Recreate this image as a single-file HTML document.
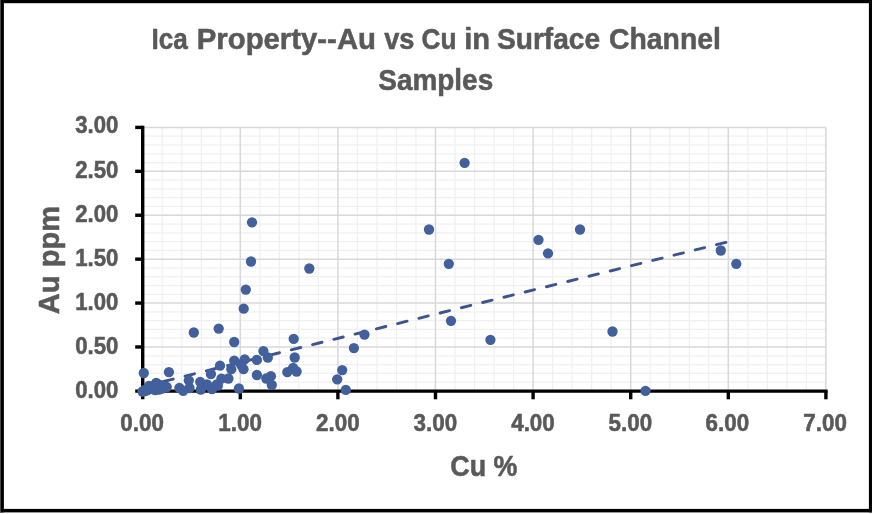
<!DOCTYPE html>
<html lang="en"><head><meta charset="utf-8"><title>Ica Property--Au vs Cu in Surface Channel Samples</title>
<style>html,body{margin:0;padding:0;background:#fff;overflow:hidden}svg{display:block}text{font-family:"Liberation Sans", sans-serif;font-weight:bold;fill:#595959;stroke:#595959;stroke-width:0.55px;stroke-linejoin:round}</style>
</head><body>
<svg width="872" height="514" viewBox="0 0 872 514">
<rect x="0" y="0" width="872" height="514" fill="#fff"/>
<g fill="#000">
<rect x="0" y="0" width="872" height="3.2"/>
<rect x="0" y="0" width="3.9" height="512.4"/>
<rect x="868.9" y="0" width="3.1" height="512.4"/>
<rect x="0" y="508.9" width="872" height="3.5"/>
</g>
<rect x="0" y="0" width="1" height="512" fill="#4a4a4a"/>
<g stroke="#f0f0f0" stroke-width="1.25" fill="none">
<line x1="162.22" y1="127.41" x2="162.22" y2="390.90"/>
<line x1="181.74" y1="127.41" x2="181.74" y2="390.90"/>
<line x1="201.26" y1="127.41" x2="201.26" y2="390.90"/>
<line x1="220.78" y1="127.41" x2="220.78" y2="390.90"/>
<line x1="259.82" y1="127.41" x2="259.82" y2="390.90"/>
<line x1="279.34" y1="127.41" x2="279.34" y2="390.90"/>
<line x1="298.86" y1="127.41" x2="298.86" y2="390.90"/>
<line x1="318.38" y1="127.41" x2="318.38" y2="390.90"/>
<line x1="357.42" y1="127.41" x2="357.42" y2="390.90"/>
<line x1="376.94" y1="127.41" x2="376.94" y2="390.90"/>
<line x1="396.46" y1="127.41" x2="396.46" y2="390.90"/>
<line x1="415.98" y1="127.41" x2="415.98" y2="390.90"/>
<line x1="455.02" y1="127.41" x2="455.02" y2="390.90"/>
<line x1="474.54" y1="127.41" x2="474.54" y2="390.90"/>
<line x1="494.06" y1="127.41" x2="494.06" y2="390.90"/>
<line x1="513.58" y1="127.41" x2="513.58" y2="390.90"/>
<line x1="552.62" y1="127.41" x2="552.62" y2="390.90"/>
<line x1="572.14" y1="127.41" x2="572.14" y2="390.90"/>
<line x1="591.66" y1="127.41" x2="591.66" y2="390.90"/>
<line x1="611.18" y1="127.41" x2="611.18" y2="390.90"/>
<line x1="650.22" y1="127.41" x2="650.22" y2="390.90"/>
<line x1="669.74" y1="127.41" x2="669.74" y2="390.90"/>
<line x1="689.26" y1="127.41" x2="689.26" y2="390.90"/>
<line x1="708.78" y1="127.41" x2="708.78" y2="390.90"/>
<line x1="747.82" y1="127.41" x2="747.82" y2="390.90"/>
<line x1="767.34" y1="127.41" x2="767.34" y2="390.90"/>
<line x1="786.86" y1="127.41" x2="786.86" y2="390.90"/>
<line x1="806.38" y1="127.41" x2="806.38" y2="390.90"/>
<line x1="142.70" y1="382.12" x2="825.90" y2="382.12"/>
<line x1="142.70" y1="373.33" x2="825.90" y2="373.33"/>
<line x1="142.70" y1="364.55" x2="825.90" y2="364.55"/>
<line x1="142.70" y1="355.77" x2="825.90" y2="355.77"/>
<line x1="142.70" y1="338.20" x2="825.90" y2="338.20"/>
<line x1="142.70" y1="329.42" x2="825.90" y2="329.42"/>
<line x1="142.70" y1="320.64" x2="825.90" y2="320.64"/>
<line x1="142.70" y1="311.85" x2="825.90" y2="311.85"/>
<line x1="142.70" y1="294.29" x2="825.90" y2="294.29"/>
<line x1="142.70" y1="285.50" x2="825.90" y2="285.50"/>
<line x1="142.70" y1="276.72" x2="825.90" y2="276.72"/>
<line x1="142.70" y1="267.94" x2="825.90" y2="267.94"/>
<line x1="142.70" y1="250.37" x2="825.90" y2="250.37"/>
<line x1="142.70" y1="241.59" x2="825.90" y2="241.59"/>
<line x1="142.70" y1="232.81" x2="825.90" y2="232.81"/>
<line x1="142.70" y1="224.02" x2="825.90" y2="224.02"/>
<line x1="142.70" y1="206.46" x2="825.90" y2="206.46"/>
<line x1="142.70" y1="197.67" x2="825.90" y2="197.67"/>
<line x1="142.70" y1="188.89" x2="825.90" y2="188.89"/>
<line x1="142.70" y1="180.11" x2="825.90" y2="180.11"/>
<line x1="142.70" y1="162.54" x2="825.90" y2="162.54"/>
<line x1="142.70" y1="153.76" x2="825.90" y2="153.76"/>
<line x1="142.70" y1="144.98" x2="825.90" y2="144.98"/>
<line x1="142.70" y1="136.19" x2="825.90" y2="136.19"/>
</g>
<g stroke="#d8d8d8" stroke-width="1.5" fill="none">
<line x1="240.30" y1="127.41" x2="240.30" y2="390.90"/>
<line x1="337.90" y1="127.41" x2="337.90" y2="390.90"/>
<line x1="435.50" y1="127.41" x2="435.50" y2="390.90"/>
<line x1="533.10" y1="127.41" x2="533.10" y2="390.90"/>
<line x1="630.70" y1="127.41" x2="630.70" y2="390.90"/>
<line x1="728.30" y1="127.41" x2="728.30" y2="390.90"/>
<line x1="825.90" y1="127.41" x2="825.90" y2="390.90"/>
<line x1="142.70" y1="346.98" x2="825.90" y2="346.98"/>
<line x1="142.70" y1="303.07" x2="825.90" y2="303.07"/>
<line x1="142.70" y1="259.15" x2="825.90" y2="259.15"/>
<line x1="142.70" y1="215.24" x2="825.90" y2="215.24"/>
<line x1="142.70" y1="171.32" x2="825.90" y2="171.32"/>
<line x1="142.70" y1="127.41" x2="825.90" y2="127.41"/>
</g>
<g stroke="#000" stroke-width="3.4" fill="none">
<line x1="142.70" y1="125.71" x2="142.70" y2="399.30"/>
<line x1="135.20" y1="391.10" x2="827.60" y2="391.10"/>
<line x1="240.30" y1="390.90" x2="240.30" y2="399.30"/>
<line x1="337.90" y1="390.90" x2="337.90" y2="399.30"/>
<line x1="435.50" y1="390.90" x2="435.50" y2="399.30"/>
<line x1="533.10" y1="390.90" x2="533.10" y2="399.30"/>
<line x1="630.70" y1="390.90" x2="630.70" y2="399.30"/>
<line x1="728.30" y1="390.90" x2="728.30" y2="399.30"/>
<line x1="825.90" y1="390.90" x2="825.90" y2="399.30"/>
<line x1="135.20" y1="346.98" x2="142.70" y2="346.98"/>
<line x1="135.20" y1="303.07" x2="142.70" y2="303.07"/>
<line x1="135.20" y1="259.15" x2="142.70" y2="259.15"/>
<line x1="135.20" y1="215.24" x2="142.70" y2="215.24"/>
<line x1="135.20" y1="171.32" x2="142.70" y2="171.32"/>
<line x1="135.20" y1="127.41" x2="142.70" y2="127.41"/>
</g>
<line x1="142.50" y1="386.63" x2="726.30" y2="242.26" stroke="#3c5490" stroke-width="2.9" stroke-linecap="round" stroke-dasharray="9.7 12.2" stroke-dashoffset="0.00"/>
<g fill="#42609c">
<circle cx="464.6" cy="162.8" r="5.15"/>
<circle cx="429.0" cy="229.5" r="5.15"/>
<circle cx="448.8" cy="263.8" r="5.15"/>
<circle cx="309.3" cy="268.5" r="5.15"/>
<circle cx="451.0" cy="320.8" r="5.15"/>
<circle cx="490.4" cy="339.8" r="5.15"/>
<circle cx="364.5" cy="334.6" r="5.15"/>
<circle cx="353.9" cy="348.1" r="5.15"/>
<circle cx="293.7" cy="338.8" r="5.15"/>
<circle cx="294.7" cy="357.5" r="5.15"/>
<circle cx="293.1" cy="368.0" r="5.15"/>
<circle cx="296.6" cy="371.5" r="5.15"/>
<circle cx="287.3" cy="372.1" r="5.15"/>
<circle cx="342.2" cy="370.1" r="5.15"/>
<circle cx="337.2" cy="379.3" r="5.15"/>
<circle cx="345.8" cy="389.9" r="5.15"/>
<circle cx="252.0" cy="222.3" r="5.15"/>
<circle cx="251.0" cy="261.5" r="5.15"/>
<circle cx="538.5" cy="239.8" r="5.15"/>
<circle cx="548.0" cy="253.3" r="5.15"/>
<circle cx="580.0" cy="229.5" r="5.15"/>
<circle cx="720.8" cy="250.5" r="5.15"/>
<circle cx="736.3" cy="263.8" r="5.15"/>
<circle cx="612.5" cy="331.5" r="5.15"/>
<circle cx="645.5" cy="390.8" r="5.15"/>
<circle cx="245.8" cy="289.6" r="5.15"/>
<circle cx="243.7" cy="308.7" r="5.15"/>
<circle cx="234.2" cy="342.0" r="5.15"/>
<circle cx="193.8" cy="332.5" r="5.15"/>
<circle cx="218.7" cy="328.6" r="5.15"/>
<circle cx="263.4" cy="351.1" r="5.15"/>
<circle cx="267.8" cy="357.5" r="5.15"/>
<circle cx="256.9" cy="359.9" r="5.15"/>
<circle cx="244.7" cy="359.3" r="5.15"/>
<circle cx="234.2" cy="360.6" r="5.15"/>
<circle cx="243.5" cy="369.2" r="5.15"/>
<circle cx="231.3" cy="369.2" r="5.15"/>
<circle cx="241.0" cy="364.5" r="5.15"/>
<circle cx="256.9" cy="375.0" r="5.15"/>
<circle cx="270.9" cy="376.2" r="5.15"/>
<circle cx="266.3" cy="378.5" r="5.15"/>
<circle cx="271.8" cy="385.0" r="5.15"/>
<circle cx="238.9" cy="388.5" r="5.15"/>
<circle cx="143.8" cy="373.0" r="5.15"/>
<circle cx="168.9" cy="372.1" r="5.15"/>
<circle cx="220.0" cy="365.7" r="5.15"/>
<circle cx="228.4" cy="378.5" r="5.15"/>
<circle cx="221.4" cy="378.7" r="5.15"/>
<circle cx="210.9" cy="374.0" r="5.15"/>
<circle cx="217.9" cy="385.5" r="5.15"/>
<circle cx="212.0" cy="389.2" r="5.15"/>
<circle cx="200.2" cy="381.8" r="5.15"/>
<circle cx="200.8" cy="389.5" r="5.15"/>
<circle cx="188.8" cy="380.3" r="5.15"/>
<circle cx="189.5" cy="388.0" r="5.15"/>
<circle cx="179.4" cy="388.0" r="5.15"/>
<circle cx="183.2" cy="390.8" r="5.15"/>
<circle cx="216.8" cy="384.5" r="5.15"/>
<circle cx="207.0" cy="384.5" r="5.15"/>
<circle cx="142.5" cy="391.5" r="5.15"/>
<circle cx="145.0" cy="391.0" r="5.15"/>
<circle cx="147.5" cy="390.0" r="5.15"/>
<circle cx="150.0" cy="388.5" r="5.15"/>
<circle cx="152.0" cy="386.5" r="5.15"/>
<circle cx="156.2" cy="382.9" r="5.15"/>
<circle cx="160.0" cy="385.0" r="5.15"/>
<circle cx="163.0" cy="386.0" r="5.15"/>
<circle cx="166.7" cy="387.0" r="5.15"/>
<circle cx="155.0" cy="390.0" r="5.15"/>
<circle cx="159.0" cy="389.5" r="5.15"/>
<circle cx="162.0" cy="388.5" r="5.15"/>
<circle cx="149.0" cy="386.0" r="5.15"/>
</g>
<text x="151.58" y="48.80" font-size="30.30" text-anchor="start" textLength="36.31" lengthAdjust="spacingAndGlyphs">Ica</text>
<text x="196.74" y="48.80" font-size="30.30" text-anchor="start" textLength="179.24" lengthAdjust="spacingAndGlyphs">Property--Au</text>
<text x="384.14" y="48.80" font-size="30.30" text-anchor="start" textLength="30.31" lengthAdjust="spacingAndGlyphs">vs</text>
<text x="421.54" y="48.80" font-size="30.30" text-anchor="start" textLength="34.96" lengthAdjust="spacingAndGlyphs">Cu</text>
<text x="464.16" y="48.80" font-size="30.30" text-anchor="start" textLength="25.85" lengthAdjust="spacingAndGlyphs">in</text>
<text x="496.96" y="48.80" font-size="30.30" text-anchor="start" textLength="103.19" lengthAdjust="spacingAndGlyphs">Surface</text>
<text x="608.96" y="48.80" font-size="30.30" text-anchor="start" textLength="111.97" lengthAdjust="spacingAndGlyphs">Channel</text>
<text x="378.32" y="90.45" font-size="30.30" text-anchor="start" textLength="114.87" lengthAdjust="spacingAndGlyphs">Samples</text>
<text x="75.30" y="397.90" font-size="23.00" text-anchor="start" textLength="43.10" lengthAdjust="spacingAndGlyphs">0.00</text>
<text x="75.30" y="353.90" font-size="23.00" text-anchor="start" textLength="43.10" lengthAdjust="spacingAndGlyphs">0.50</text>
<text x="75.30" y="309.90" font-size="23.00" text-anchor="start" textLength="43.10" lengthAdjust="spacingAndGlyphs">1.00</text>
<text x="75.30" y="265.90" font-size="23.00" text-anchor="start" textLength="43.10" lengthAdjust="spacingAndGlyphs">1.50</text>
<text x="75.30" y="221.90" font-size="23.00" text-anchor="start" textLength="43.10" lengthAdjust="spacingAndGlyphs">2.00</text>
<text x="75.30" y="177.90" font-size="23.00" text-anchor="start" textLength="43.10" lengthAdjust="spacingAndGlyphs">2.50</text>
<text x="75.30" y="133.30" font-size="23.00" text-anchor="start" textLength="43.10" lengthAdjust="spacingAndGlyphs">3.00</text>
<text x="120.30" y="431.10" font-size="23.00" text-anchor="start" textLength="43.60" lengthAdjust="spacingAndGlyphs">0.00</text>
<text x="218.30" y="431.10" font-size="23.00" text-anchor="start" textLength="43.60" lengthAdjust="spacingAndGlyphs">1.00</text>
<text x="316.00" y="431.10" font-size="23.00" text-anchor="start" textLength="43.60" lengthAdjust="spacingAndGlyphs">2.00</text>
<text x="413.60" y="431.10" font-size="23.00" text-anchor="start" textLength="43.60" lengthAdjust="spacingAndGlyphs">3.00</text>
<text x="511.20" y="431.10" font-size="23.00" text-anchor="start" textLength="43.60" lengthAdjust="spacingAndGlyphs">4.00</text>
<text x="608.60" y="431.10" font-size="23.00" text-anchor="start" textLength="43.60" lengthAdjust="spacingAndGlyphs">5.00</text>
<text x="705.60" y="431.10" font-size="23.00" text-anchor="start" textLength="43.60" lengthAdjust="spacingAndGlyphs">6.00</text>
<text x="803.30" y="431.10" font-size="23.00" text-anchor="start" textLength="43.60" lengthAdjust="spacingAndGlyphs">7.00</text>
<text x="450.26" y="476.10" font-size="30.30" text-anchor="start" textLength="67.22" lengthAdjust="spacingAndGlyphs">Cu %</text>
<text transform="translate(59.10,314.20) rotate(-90)" font-size="30.30" textLength="108.23" lengthAdjust="spacingAndGlyphs">Au ppm</text>
</svg>
</body></html>
